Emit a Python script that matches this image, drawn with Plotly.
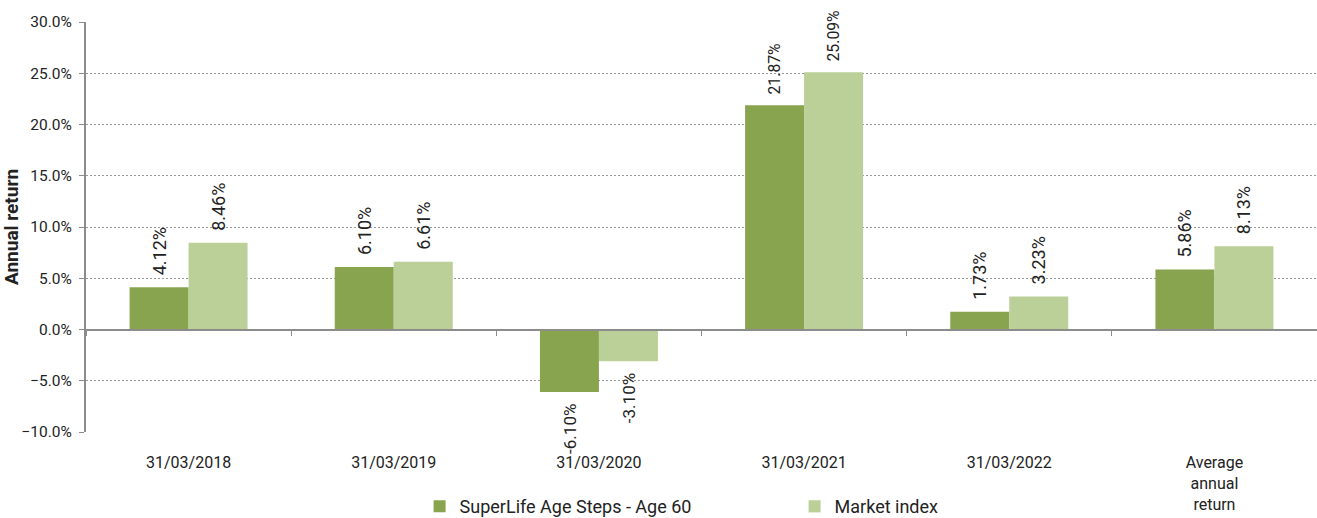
import plotly.graph_objects as go

categories = ["31/03/2018", "31/03/2019", "31/03/2020", "31/03/2021", "31/03/2022", "Average<br>annual<br>return"]
fund_name = "SuperLife Age Steps - Age 60"
index_name = "Market index"
fund_values = [4.12, 6.10, -6.10, 21.87, 1.73, 5.86]
index_values = [8.46, 6.61, -3.10, 25.09, 3.23, 8.13]
y_ticks = [-10, -5, 0, 5, 10, 15, 20, 25, 30]

dark_green = "#88A44E"
light_green = "#BBCF98"
font_family = "Roboto, Arial, sans-serif"
pad = "\u00a0\u00a0"


def label(v):
    s = f"{v:.2f}%"
    return pad + s if v >= 0 else s + pad


fig = go.Figure()
for name, vals, col in [(fund_name, fund_values, dark_green), (index_name, index_values, light_green)]:
    fig.add_trace(go.Bar(
        x=categories, y=[v / 100 for v in vals], name=name, marker_color=col,
        text=[label(v) for v in vals], textposition="outside", textangle=-90,
        textfont=dict(family=font_family, size=18, color="#222222"),
        cliponaxis=False, marker_line_width=0,
    ))

# invisible trace to drive category axis drawn at zero
fig.add_trace(go.Bar(x=categories, y=[0] * len(categories), xaxis="x2", showlegend=False,
                     marker_color="rgba(0,0,0,0)", hoverinfo="skip"))

fig.update_layout(
    width=1317, height=518,
    margin=dict(l=86, r=0, t=22, b=86, autoexpand=False),
    plot_bgcolor="white", paper_bgcolor="white",
    barmode="group", bargap=0.425, bargroupgap=0,
    font=dict(family=font_family, size=16, color="#222222"),
    legend=dict(orientation="h", x=0.271, xanchor="left", y=-0.137, yanchor="top",
                font=dict(size=18, color="#222222"), entrywidth=330, itemwidth=30,
                traceorder="normal"),
    xaxis=dict(type="category", showline=False, showgrid=False, ticks="",
               tickfont=dict(size=16), ticklabelstandoff=19, automargin=False),
    xaxis2=dict(type="category", overlaying="x", anchor="free", position=0.25,
                showline=True, linecolor="#8c8c8c", linewidth=2,
                ticks="outside", tickson="boundaries", ticklen=5, tickcolor="#8c8c8c",
                showticklabels=False, showgrid=False, matches="x", side="bottom",
                automargin=False),
    yaxis=dict(range=[-0.10, 0.30], tickvals=[t / 100 for t in y_ticks],
               tickformat=".1%", showline=True, linecolor="#8c8c8c", linewidth=2,
               ticks="outside", ticklen=5, tickcolor="#8c8c8c", ticklabelstandoff=4,
               showgrid=True, gridcolor="#999999", griddash="2px,2px", gridwidth=1,
               zeroline=False, tickfont=dict(size=15.5), automargin=False,
               title=dict(text="<b>Annual return</b>", font=dict(size=19), standoff=0)),
)

fig.write_html("out.html", config={"displayModeBar": False},
               post_script="document.body.style.margin='0';document.body.style.overflow='hidden';")
